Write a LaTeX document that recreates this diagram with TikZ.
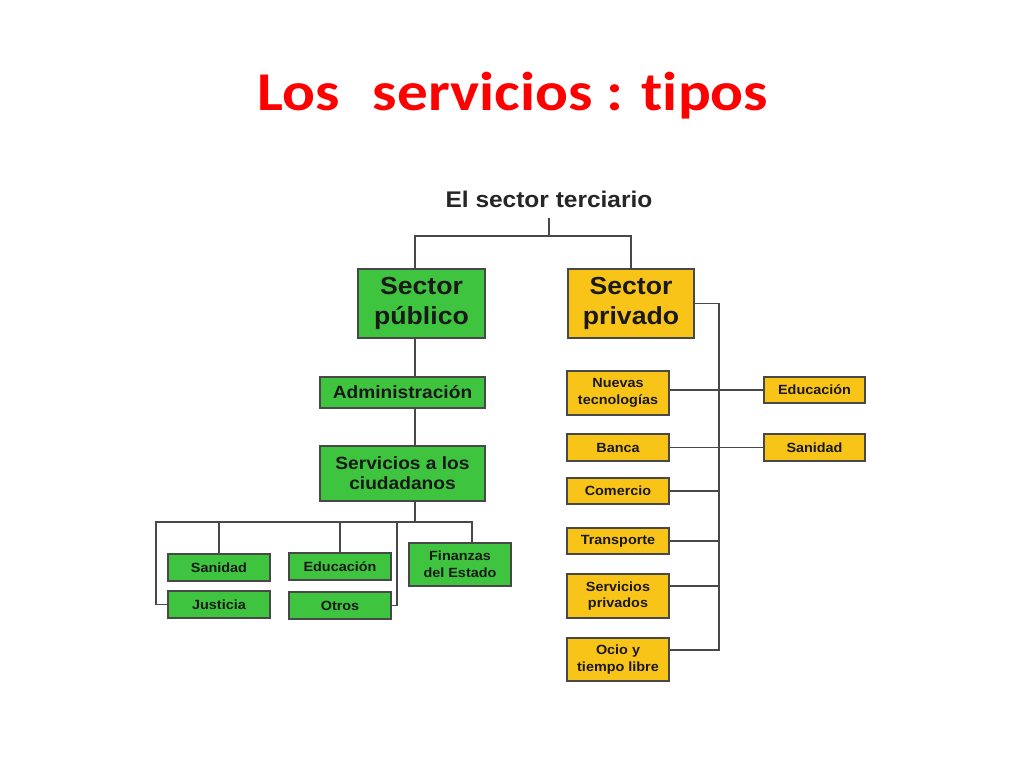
\documentclass[tikz,border=0pt]{standalone}
\usepackage{fontspec}
\setmainfont{Liberation Sans}
\newfontfamily\titlefont[FakeStretch=1.12,Ligatures={NoCommon}]{Carlito}
\newfontfamily\boxfont[FakeStretch=1.08]{Liberation Sans}
\usetikzlibrary{positioning}
\definecolor{pubgreen}{RGB}{62,196,62}
\definecolor{privyellow}{RGB}{248,196,24}
\definecolor{edgegray}{RGB}{72,72,72}
\tikzset{
  box/.style={draw=edgegray, line width=1pt, inner sep=0pt, align=center, text=black!90},
  sz/.style 2 args={minimum width=#1*0.75pt, minimum height=#2*0.75pt},
  pub/.style={box, fill=pubgreen},
  priv/.style={box, fill=privyellow},
  big/.style={font=\boxfont\bfseries\fontsize{18.5}{22.5}\selectfont},
  mid/.style={font=\boxfont\bfseries\fontsize{13.3}{15}\selectfont},
  small/.style={font=\boxfont\bfseries\fontsize{10}{12.5}\selectfont},
  wire/.style={draw=edgegray, line width=1.1pt}
}
\begin{document}
\begin{tikzpicture}[x=0.75pt,y=0.75pt,yscale=-1,xscale=1]
\useasboundingbox[fill=white] (0,0) rectangle (1024,768);

% Title
\node[anchor=base, inner sep=0pt, text=red, font=\titlefont\bfseries\fontsize{41}{48}\selectfont] (title) at (513,110) {Los\hspace{0.6em}servicios : tipos};
\node[anchor=base, inner sep=0pt, outer sep=8pt, text=black!85, font=\boxfont\bfseries\fontsize{17}{20}\selectfont] (root) at (549,207) {El sector terciario};

% Sector publico
\node[pub, big, sz={127}{69}] (pub) at (421.5,303.5) {Sector\\público};
\node[pub, mid, sz={165}{31}] (adm) at (402.5,392.5) {Administración};
\node[pub, mid, sz={165}{55}] (ciud) at (402.5,473.5) {Servicios a los\\ciudadanos};
\node[pub, small, sz={102}{27}] (san) at (219,567.5) {Sanidad};
\node[pub, small, sz={102}{27}] (jus) at (219,604.5) {Justicia};
\node[pub, small, sz={102}{27}] (edu) at (340,566.5) {Educación};
\node[pub, small, sz={102}{27}] (otr) at (340,605.5) {Otros};
\node[pub, small, sz={102}{43}] (fin) at (460,564.5) {Finanzas\\del Estado};

% Sector privado
\node[priv, big, sz={126}{69}] (priv) at (631,303.5) {Sector\\privado};
\node[priv, small, sz={102}{44}] (nt) at (618,393) {Nuevas\\tecnologías};
\node[priv, small, sz={102}{27}] (ban) at (618,447.5) {Banca};
\node[priv, small, sz={102}{26}] (com) at (618,491) {Comercio};
\node[priv, small, sz={102}{26}] (tra) at (618,541) {Transporte};
\node[priv, small, sz={102}{44}] (spr) at (618,596) {Servicios\\privados};
\node[priv, small, sz={102}{43}] (ocio) at (618,659.5) {Ocio y\\tiempo libre};
\node[priv, small, sz={101}{26}] (edr) at (814.5,390) {Educación};
\node[priv, small, sz={101}{27}] (sar) at (814.5,447.5) {Sanidad};

% junctions
\coordinate (pl) at (415,236);
\coordinate (bus) at (415,522);
\coordinate (bl) at (156,522);
\coordinate (br) at (472,522);
\coordinate (ob) at (397,522);
\coordinate (sp) at (719,0);
\coordinate (oc) at ([yshift=-7pt]ocio.east);
\coordinate (sc) at ([yshift=-7.5pt]spr.east);

% Connectors
\draw[wire] (root.south) -- (root.south |- pl);
\draw[wire] (pub.north -| pl) -- (pl) -| (priv.north);
\draw[wire] (pub.south -| pl) -- (adm.north -| pl);
\draw[wire] (adm.south -| pl) -- (ciud.north -| pl);
\draw[wire] (ciud.south -| pl) -- (bus);
\draw[wire] (jus.west) -| (bl) -- (br) -- (fin.north -| br);
\draw[wire] (san.north) -- (san.north |- bl);
\draw[wire] (edu.north) -- (edu.north |- bl);
\draw[wire] (otr.east) -| (ob);

\draw[wire] (priv.east) -| (oc -| sp) -- (oc);
\draw[wire] (nt.east |- edr.west) -- (edr.west);
\draw[wire] (ban.east) -- (sar.west);
\foreach \n in {com,tra}
  \draw[wire] (\n.east) -- (\n.east -| sp);
\draw[wire] (sc) -- (sc -| sp);

\end{tikzpicture}
\end{document}
